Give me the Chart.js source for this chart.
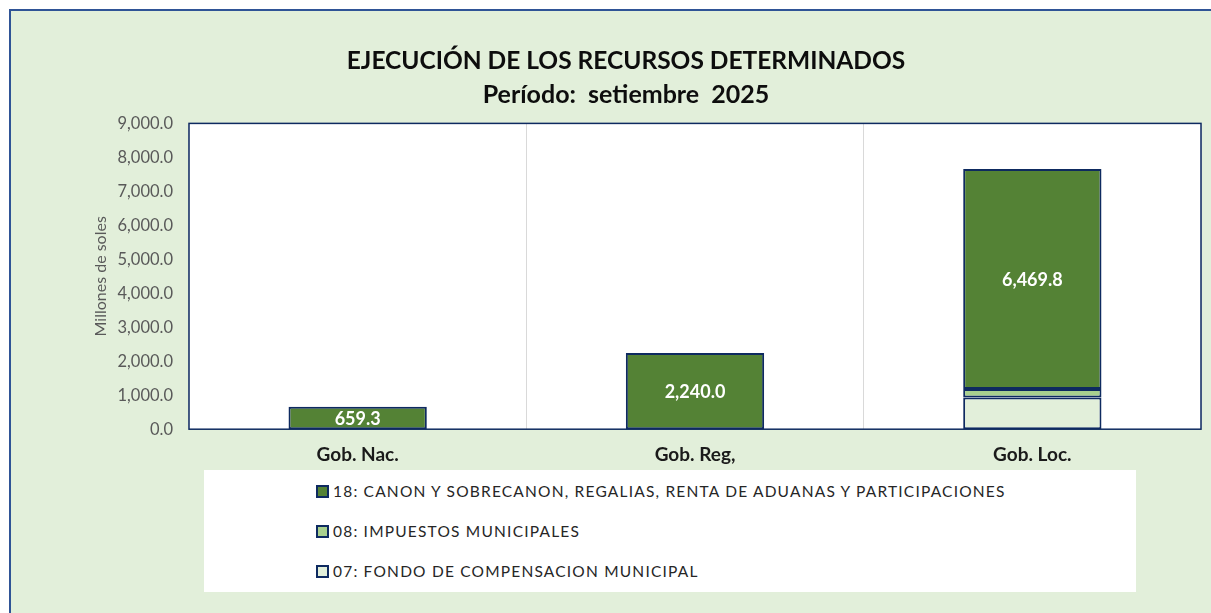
<!DOCTYPE html>
<html>
<head>
<meta charset="utf-8">
<script src="https://cdn.jsdelivr.net/npm/chart.js@4.4.1/dist/chart.umd.min.js"></script>
<style>
  html, body { margin: 0; padding: 0; background: #ffffff; overflow: hidden; }
  #frame {
    position: absolute; left: 9px; top: 9px; width: 1240px; height: 620px;
    background: #E2EFDA; border-top: 2px solid #2F5496; border-left: 2px solid #2F5496;
  }
  #chart-wrap { position: absolute; left: 0; top: 0; width: 1230px; height: 602px; }
  #legend {
    position: absolute; left: 193px; top: 459px; width: 932px; height: 122px;
    background: #ffffff; font-family: Lato, "Open Sans", sans-serif; font-size: 15.5px;
    letter-spacing: 1.2px; color: #262626;
  }
  .legend-item { position: absolute; left: 112px; display: flex; align-items: center; white-space: nowrap; }
  .legend-box { width: 9px; height: 9px; border: 2px solid #0E2A60; margin-right: 4px; }
</style>
</head>
<body>
<div id="frame">
  <div id="chart-wrap"><canvas id="recursosChart"></canvas></div>
  <div id="legend"></div>
</div>
<script>
// Data (millones de soles)
const categories = ["Gob. Nac.", "Gob. Reg,", "Gob. Loc."]
const fondoCompensacion = [0, 0, 930.0]      // 07
const impuestosMunicipales = [0, 0, 255.0]   // 08
const canonSobrecanon = [659.3, 2240.0, 6469.8] // 18
const yTicks = [0, 1000, 2000, 3000, 4000, 5000, 6000, 7000, 8000, 9000]

const navy = "#0E2A60"
const fontFamily = "Lato, 'Open Sans', sans-serif"

function formatNumber(n) {
  return new Intl.NumberFormat("en-US", { minimumFractionDigits: 1, maximumFractionDigits: 1 }).format(n)
}

// white plot area with navy frame
const plotFrame = {
  id: "plotFrame",
  beforeDraw(chart) {
    const { ctx, chartArea: a } = chart
    ctx.save()
    ctx.fillStyle = "#ffffff"
    ctx.fillRect(a.left, a.top, a.right - a.left, a.bottom - a.top)
    ctx.restore()
  },
  beforeDatasetsDraw(chart) {
    const { ctx, chartArea: a } = chart
    ctx.save()
    ctx.strokeStyle = navy
    ctx.lineWidth = 1.5
    ctx.strokeRect(a.left, a.top, a.right - a.left, a.bottom - a.top)
    ctx.restore()
  },
}

// value labels inside the dark green segments
const barLabels = {
  id: "barLabels",
  afterDatasetsDraw(chart) {
    const { ctx } = chart
    const idx = chart.data.datasets.length - 1
    const meta = chart.getDatasetMeta(idx)
    ctx.save()
    ctx.fillStyle = "#ffffff"
    ctx.font = "bold 18px " + fontFamily
    ctx.textAlign = "center"
    ctx.textBaseline = "middle"
    meta.data.forEach((bar, i) => {
      const v = chart.data.datasets[idx].data[i]
      if (!v) return
      ctx.fillText(formatNumber(v), bar.x, (bar.y + bar.base) / 2 + 1)
    })
    ctx.restore()
  },
}

const ctx = document.getElementById("recursosChart")
const chart = new Chart(ctx, {
  type: "bar",
  data: {
    labels: categories,
    datasets: [
      { label: "07: FONDO DE COMPENSACION MUNICIPAL", data: fondoCompensacion, backgroundColor: "#E2EFDA" },
      { label: "08: IMPUESTOS MUNICIPALES", data: impuestosMunicipales, backgroundColor: "#A9D08E" },
      { label: "18: CANON Y SOBRECANON, REGALIAS, RENTA DE ADUANAS Y PARTICIPACIONES", data: canonSobrecanon, backgroundColor: "#548235" },
    ],
  },
  options: {
    responsive: true,
    maintainAspectRatio: false,
    animation: false,
    datasets: {
      bar: {
        borderColor: navy,
        borderWidth: 2,
        borderSkipped: false,
        barPercentage: 0.41,
        categoryPercentage: 1,
      },
    },
    layout: { padding: { left: 0, right: 0, bottom: 133, top: 0 } },
    plugins: {
      legend: { display: false },
      tooltip: { enabled: false },
      title: {
        display: true,
        text: "EJECUCIÓN DE LOS RECURSOS DETERMINADOS",
        color: "#0D0D0D",
        font: { family: fontFamily, size: 24.5, weight: "bold" },
        padding: { top: 35, bottom: 5 },
      },
      subtitle: {
        display: true,
        text: "Período:  setiembre  2025",
        color: "#0D0D0D",
        font: { family: fontFamily, size: 25, weight: "bold" },
        padding: { top: 0, bottom: 13 },
      },
    },
    scales: {
      x: {
        stacked: true,
        grid: { display: true, offset: true, color: "#D9D9D9", lineWidth: 1, drawTicks: false },
        border: { display: false },
        ticks: {
          color: "#1A1A1A",
          padding: 14,
          font: { family: fontFamily, size: 19, weight: "bold" },
        },
      },
      y: {
        stacked: true,
        min: 0,
        max: 9000,
        afterBuildTicks(scale) {
          scale.ticks = yTicks.map((v) => ({ value: v }))
        },
        afterFit(scale) {
          scale.width = 178
        },
        grid: { display: false, drawTicks: false },
        border: { display: false },
        title: {
          display: true,
          text: "Millones de soles",
          color: "#595959",
          padding: { top: 80, bottom: 0 },
          font: { family: fontFamily, size: 16 },
        },
        ticks: {
          color: "#595959",
          padding: 16,
          font: { family: fontFamily, size: 16.5 },
          callback: (v) => formatNumber(v),
        },
      },
      // empty right margin so the plot ends where the original does
      yRight: {
        position: "right",
        display: true,
        grid: { display: false, drawTicks: false },
        border: { display: false },
        ticks: { display: false },
        afterFit(scale) {
          scale.width = 40
        },
      },
    },
  },
  plugins: [plotFrame, barLabels],
})

// legend, listed top to bottom like the original (reverse of stack order)
const legendEl = document.getElementById("legend")
const tops = [12, 52, 92]
chart.data.datasets.slice().reverse().forEach((ds, i) => {
  const item = document.createElement("div")
  item.className = "legend-item"
  item.style.top = tops[i] + "px"
  item.innerHTML = `<span class="legend-box" style="background:${ds.backgroundColor}"></span><span>${ds.label}</span>`
  legendEl.appendChild(item)
})
</script>
</body>
</html>
